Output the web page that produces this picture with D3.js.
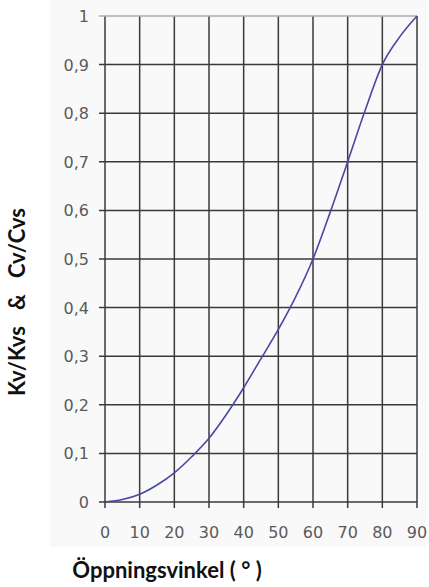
<!DOCTYPE html>
<head>
    <meta charset="utf-8">
    <script src="https://d3js.org/d3.v7.min.js"></script>
    <style>
      body { margin: 0; background: white; }
      .ticklabel { font-family: "DejaVu Sans", Verdana; font-size: 16px; fill: #5a5a5a; }
      .axistitle { font-family: Lato, "Open Sans"; font-weight: bold; font-size: 22px; fill: #111; }
    </style>
</head>
<body>
    <script>
        // data
        var angles = [0, 5, 10, 15, 20, 25, 30, 35, 40, 45, 50, 55, 60, 65, 70, 75, 80, 85, 90]
        var ratio  = [0, 0.005, 0.016, 0.035, 0.06, 0.093, 0.131, 0.18, 0.235, 0.295, 0.355, 0.422, 0.5, 0.597, 0.7, 0.805, 0.9, 0.957, 1]
        var xTicks = [0, 10, 20, 30, 40, 50, 60, 70, 80, 90]
        var yTicks = [0, 0.1, 0.2, 0.3, 0.4, 0.5, 0.6, 0.7, 0.8, 0.9, 1]

        var svg_w = 429, svg_h = 587
        var svg = d3.select("body").append("svg")
          .attr("width", svg_w)
          .attr("height", svg_h)

        // faint pasted-image background
        svg.append("rect")
          .attr("x", 50).attr("y", 0)
          .attr("width", 376).attr("height", 547)
          .attr("fill", "#f9f9f9")

        var x = d3.scaleLinear().domain([0, 90]).range([105, 417])
        var y = d3.scaleLinear().domain([0, 1]).range([502, 16])

        // vertical grid + tick marks under x axis
        svg.selectAll(".vgrid")
          .data(xTicks)
          .enter()
          .append("line")
          .attr("x1", function(d){return x(d)})
          .attr("x2", function(d){return x(d)})
          .attr("y1", y(1))
          .attr("y2", y(0) + 6)
          .attr("stroke", "#3a3a3a")
          .attr("stroke-width", 1.5)

        // horizontal grid + tick marks left of y axis
        svg.selectAll(".hgrid")
          .data(yTicks)
          .enter()
          .append("line")
          .attr("x1", x(0) - 6)
          .attr("x2", x(90))
          .attr("y1", function(d){return y(d)})
          .attr("y2", function(d){return y(d)})
          .attr("stroke", function(d){return d == 1 ? "#aaa" : "#3a3a3a"})
          .attr("stroke-width", 1.5)

        svg.selectAll(".xlabel")
          .data(xTicks)
          .enter()
          .append("text")
          .classed("ticklabel", true)
          .attr("x", function(d){return x(d)})
          .attr("y", 538)
          .attr("text-anchor", "middle")
          .text(function(d){return d})

        svg.selectAll(".ylabel")
          .data(yTicks)
          .enter()
          .append("text")
          .classed("ticklabel", true)
          .attr("x", 89)
          .attr("y", function(d){return y(d) + 6})
          .attr("text-anchor", "end")
          .text(function(d){return d3.format("")(d).replace(".", ",")})

        var line = d3.line()
          .x(function(d){return x(d[0])})
          .y(function(d){return y(d[1])})
          .curve(d3.curveMonotoneX)

        svg.append("path")
          .datum(angles.map(function(a, i){return [a, ratio[i]]}))
          .attr("d", line)
          .attr("fill", "none")
          .attr("stroke", "#4848a4")
          .attr("stroke-width", 1.6)

        svg.append("text")
          .classed("axistitle", true)
          .attr("x", 167)
          .attr("y", 578)
          .attr("text-anchor", "middle")
          .text("Öppningsvinkel ( ° )")

        svg.append("text")
          .classed("axistitle", true)
          .attr("transform", "translate(25,302) rotate(-90)")
          .attr("text-anchor", "middle")
          .style("white-space", "pre")
          .text("Kv/Kvs   &   Cv/Cvs")
    </script>
</body>
